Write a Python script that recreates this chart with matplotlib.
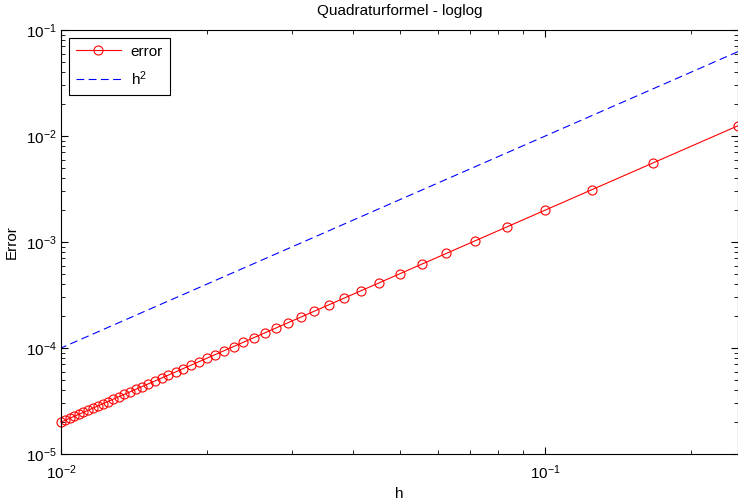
import matplotlib
matplotlib.use("Agg")
import matplotlib.pyplot as plt

plt.rcParams.update({
    "font.family": "Liberation Sans",
    "mathtext.fontset": "custom",
    "mathtext.rm": "Liberation Sans",
    "mathtext.it": "Liberation Sans",
    "font.size": 11,
})

# step sizes h = 1/n, n = 4, 6, ..., 100
h = [0.25, 0.16667, 0.125, 0.1, 0.083333, 0.071429, 0.0625, 0.055556,
     0.05, 0.045455, 0.041667, 0.038462, 0.035714, 0.033333, 0.03125,
     0.029412, 0.027778, 0.026316, 0.025, 0.02381, 0.022727, 0.021739,
     0.020833, 0.02, 0.019231, 0.018519, 0.017857, 0.017241, 0.016667,
     0.016129, 0.015625, 0.015152, 0.014706, 0.014286, 0.013889, 0.013514,
     0.013158, 0.012821, 0.0125, 0.012195, 0.011905, 0.011628, 0.011364,
     0.011111, 0.01087, 0.010638, 0.010417, 0.010204, 0.01]

error = [0.0125, 0.005556, 0.003125, 0.002, 0.0013889, 0.0010204,
         0.00078125, 0.00061728, 0.0005, 0.00041322, 0.00034722,
         0.00029586, 0.0002551, 0.00022222, 0.00019531, 0.00017301,
         0.00015432, 0.0001385, 0.000125, 0.00011338, 0.00010331,
         9.4518e-5, 8.6806e-5, 8.0e-5, 7.3964e-5, 6.8587e-5, 6.3776e-5,
         5.9453e-5, 5.5556e-5, 5.2029e-5, 4.8828e-5, 4.5914e-5, 4.3253e-5,
         4.0816e-5, 3.858e-5, 3.6523e-5, 3.4626e-5, 3.2873e-5, 3.125e-5,
         2.9744e-5, 2.8345e-5, 2.7042e-5, 2.5826e-5, 2.4691e-5, 2.3629e-5,
         2.2635e-5, 2.1701e-5, 2.0825e-5, 2.0e-5]

h_sq = [0.0625, 0.027778, 0.015625, 0.01, 0.0069444, 0.005102, 0.0039063,
        0.0030864, 0.0025, 0.0020661, 0.0017361, 0.0014793, 0.0012755,
        0.0011111, 0.00097656, 0.00086505, 0.0007716, 0.00069252, 0.000625,
        0.00056689, 0.00051653, 0.00047259, 0.00043403, 0.0004, 0.00036982,
        0.00034294, 0.00031888, 0.00029727, 0.00027778, 0.00026015,
        0.00024414, 0.00022957, 0.00021626, 0.00020408, 0.0001929,
        0.00018262, 0.00017313, 0.00016437, 0.00015625, 0.00014872,
        0.00014172, 0.00013521, 0.00012913, 0.00012346, 0.00011815,
        0.00011317, 0.00010851, 0.00010412, 0.0001]

fig = plt.figure(figsize=(7.38, 5.04), dpi=100)
ax = fig.add_axes([61 / 738, 50 / 504, 677 / 738, 424 / 504])

ax.loglog(h, error, "-o", color="red", lw=0.8, ms=6.5,
          mfc="none", mew=0.8, label="error", clip_on=False)
ax.loglog(h, h_sq, "--", color="blue", lw=0.8, dashes=(7, 4), label="h$^2$")

ax.set_xlim(0.01, 0.25)
ax.set_ylim(1e-5, 1e-1)
ax.set_title("Quadraturformel - loglog", fontsize=11, pad=11)
ax.set_xlabel("h", fontsize=11)
ax.set_ylabel("Error", fontsize=11)
ax.xaxis.set_label_coords(0.5, -0.078)
ax.yaxis.set_label_coords(-0.062, 0.5)

ax.tick_params(which="both", direction="in", top=True, right=True, labelsize=11)
ax.tick_params(axis="y", which="major", length=5, width=0.8, pad=3)
ax.tick_params(axis="x", which="major", length=5, width=0.8, pad=7)
ax.tick_params(which="minor", length=3, width=0.6)
for s in ax.spines.values():
    s.set_linewidth(0.8)

leg = ax.legend(loc="upper left", fontsize=11, fancybox=False, framealpha=1,
                edgecolor="black", handlelength=3.0, borderaxespad=0.5,
                borderpad=0.45, labelspacing=0.7, handletextpad=0.6)
leg.get_frame().set_linewidth(0.8)

fig.savefig("out.png", dpi=100)
